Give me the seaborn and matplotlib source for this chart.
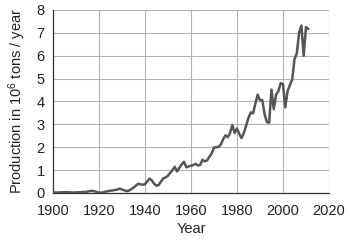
import numpy as np
import pandas as pd
import matplotlib
matplotlib.use("Agg")
import matplotlib.pyplot as plt
import seaborn as sns
from matplotlib.ticker import MultipleLocator

years = list(range(1900, 2012))
production = [
    0.02, 0.02, 0.02, 0.02, 0.03, 0.03, 0.03, 0.03, 0.02, 0.02,  # 1900-1909
    0.02, 0.03, 0.03, 0.04, 0.04, 0.06, 0.08, 0.09, 0.08, 0.04,  # 1910-1919
    0.02, 0.01, 0.03, 0.06, 0.08, 0.10, 0.11, 0.13, 0.14, 0.19,  # 1920-1929
    0.15, 0.12, 0.08, 0.10, 0.16, 0.23, 0.31, 0.40, 0.38, 0.36,  # 1930-1939
    0.38, 0.50, 0.63, 0.55, 0.40, 0.32, 0.35, 0.50, 0.64, 0.68,  # 1940-1949
    0.75, 0.88, 1.00, 1.14, 0.94, 1.10, 1.25, 1.36, 1.12, 1.16,  # 1950-1959
    1.19, 1.22, 1.27, 1.20, 1.22, 1.45, 1.38, 1.42, 1.58, 1.72,  # 1960-1969
    1.98, 2.00, 2.01, 2.12, 2.35, 2.52, 2.44, 2.62, 2.97, 2.62,  # 1970-1979
    2.82, 2.58, 2.40, 2.62, 2.95, 3.28, 3.52, 3.48, 3.90, 4.30,  # 1980-1989
    4.05, 4.06, 3.45, 3.10, 3.07, 4.52, 3.66, 4.30, 4.45, 4.80,  # 1990-1999
    4.76, 3.74, 4.45, 4.72, 4.95, 5.85, 6.10, 7.00, 7.32, 6.00,  # 2000-2009
    7.25, 7.17,                                                  # 2010-2011
]
x_ticks = [1900, 1920, 1940, 1960, 1980, 2000, 2020]
y_ticks = [0, 1, 2, 3, 4, 5, 6, 7, 8]

df = pd.DataFrame({"Year": years, "Production": production})

sns.set_theme(style="white")
plt.rcParams["font.family"] = ["Liberation Sans", "DejaVu Sans"]
plt.rcParams["mathtext.default"] = "regular"

fig = plt.figure(figsize=(3.5, 2.43), dpi=100)
ax = fig.add_axes([0.151, 0.206, 0.789, 0.753])

sns.lineplot(data=df, x="Year", y="Production", ax=ax, color="#555555",
             linewidth=1.8, zorder=3)

ax.set_xlim(1900, 2020)
ax.set_ylim(0, 8)
ax.set_xticks(x_ticks)
ax.set_yticks(y_ticks)
ax.xaxis.set_minor_locator(MultipleLocator(10))
ax.grid(True, which="major", color="#b4b4b4", linewidth=0.8)
ax.set_axisbelow(True)

for s in ["top", "right"]:
    ax.spines[s].set_visible(False)
for s in ["left", "bottom"]:
    ax.spines[s].set_color("#333333")
    ax.spines[s].set_linewidth(0.9)

ax.tick_params(axis="both", which="major", direction="out", length=3,
               width=0.8, color="#333333", labelsize=10.5, labelcolor="#222222")
ax.tick_params(axis="y", which="major", pad=3)
ax.tick_params(axis="x", which="major", pad=5)
ax.tick_params(axis="x", which="minor", direction="out", length=2,
               width=0.8, color="#333333")

ax.set_xlabel("Year", fontsize=10.5, color="#222222", labelpad=3)
ax.set_ylabel("Production in 10$^6$ tons / year", fontsize=10.5,
              color="#222222", labelpad=6)

fig.savefig("out.png", dpi=100)
